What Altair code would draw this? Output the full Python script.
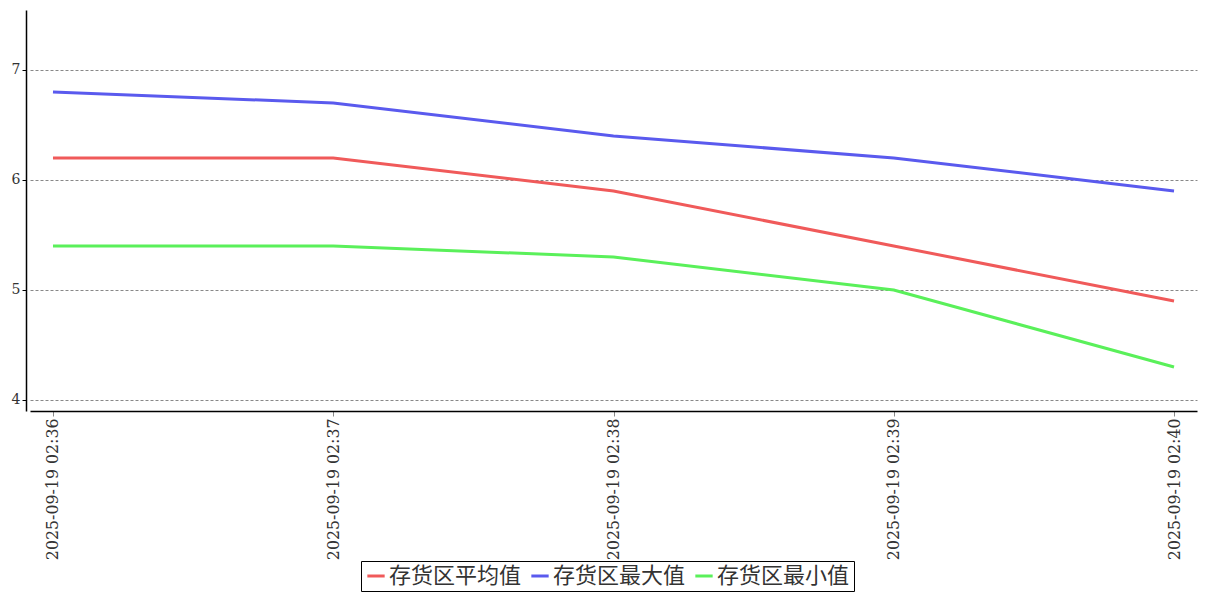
import altair as alt
import pandas as pd

times = ["2025-09-19 02:36", "2025-09-19 02:37", "2025-09-19 02:38",
         "2025-09-19 02:39", "2025-09-19 02:40"]
series_names = ["存货区平均值", "存货区最大值", "存货区最小值"]
avg_vals = [6.2, 6.2, 5.9, 5.4, 4.9]
max_vals = [6.8, 6.7, 6.4, 6.2, 5.9]
min_vals = [5.4, 5.4, 5.3, 5.0, 4.3]
colors = ["#f05a5a", "#5a5aee", "#5af05a"]
y_ticks = [4, 5, 6, 7]

rows = []
for name, vals in zip(series_names, [avg_vals, max_vals, min_vals]):
    for t, v in zip(times, vals):
        rows.append({"time": t, "series": name, "value": v})
df = pd.DataFrame(rows)

serif = "DejaVu Serif"

chart = alt.Chart(df).mark_line(strokeWidth=3).encode(
    x=alt.X("time:O", sort=times,
            scale=alt.Scale(type="point", padding=0.082),
            axis=alt.Axis(title=None, labelAngle=270, labelFont=serif,
                          labelFontSize=15.8, labelColor="#333",
                          domainColor="#000", domainWidth=1.5,
                          tickColor="#888", tickSize=5, labelPadding=2,
                          grid=False)),
    y=alt.Y("value:Q",
            scale=alt.Scale(domain=[3.9, 7.545], nice=False, zero=False),
            axis=alt.Axis(title=None, values=y_ticks, format="d",
                          labelFont=serif, labelFontSize=14,
                          labelColor="#333", domainColor="#000",
                          domainWidth=1.5, tickColor="#000", tickSize=4,
                          offset=4, grid=True, gridColor="#888",
                          gridDash=[3, 2], gridWidth=1)),
    color=alt.Color("series:N", sort=series_names,
                    scale=alt.Scale(domain=series_names, range=colors),
                    legend=alt.Legend(title=None, orient="none",
                                      direction="horizontal",
                                      legendX=331, legendY=551,
                                      symbolType="stroke",
                                      symbolStrokeWidth=3, symbolSize=300,
                                      labelFont="Noto Sans CJK SC",
                                      labelFontSize=22, labelColor="#333",
                                      columnPadding=3, symbolOffset=0,
                                      labelOffset=2,
                                      strokeColor="#000", padding=4)),
).properties(
    width=1167, height=401,
    autosize=alt.AutoSizeParams(type="none"),
    padding={"left": 22, "top": 2, "right": 2, "bottom": 181},
).configure_view(stroke=None)

chart.save("out.html", embed_options={"renderer": "svg", "actions": False})
